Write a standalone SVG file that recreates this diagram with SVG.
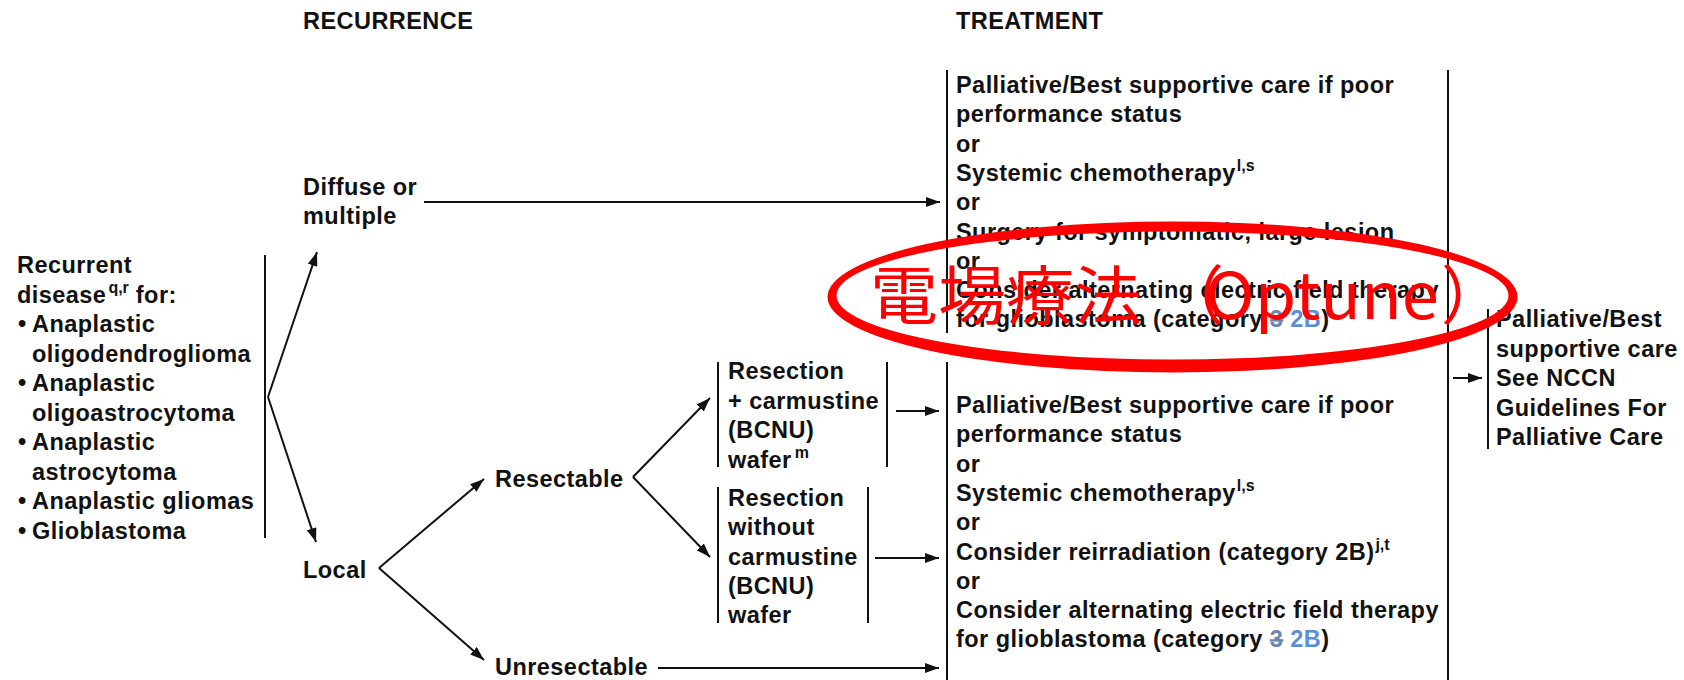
<svg xmlns="http://www.w3.org/2000/svg" width="1684" height="680" viewBox="0 0 1684 680">
<style>
.t{font-family:"Liberation Sans",Arial,sans-serif;font-weight:bold;font-size:23.5px;letter-spacing:0.45px;fill:#111}
.sup{font-size:16px;letter-spacing:0}
.bar{stroke:#111;stroke-width:2;fill:none}
.con{stroke:#111;stroke-width:2;fill:none;marker-end:url(#ah)}
.old{fill:#6a86b0;text-decoration:line-through}
.new{fill:#5b8ed8}
.red{font-family:"Noto Sans CJK JP",sans-serif;font-size:64px;fill:#f00}
</style>
<defs>
<marker id="ah" markerUnits="userSpaceOnUse" markerWidth="14" markerHeight="10" refX="14" refY="5" orient="auto">
<path d="M0,0 L14,5 L0,10 z" fill="#111"/>
</marker>
</defs>
<rect width="1684" height="680" fill="#fff"/>
<g id="headers">
<text class="t" x="303" y="29">RECURRENCE</text>
<text class="t" x="956" y="29">TREATMENT</text>
</g>
<g id="node-recurrent">
<text class="t" x="17" y="273">Recurrent</text>
<text class="t" x="17" y="302.5">disease<tspan class="sup" dy="-10" dx="2">q,r</tspan><tspan dy="10"> for:</tspan></text>
<text class="t" x="18" y="332">•<tspan x="32">Anaplastic</tspan></text>
<text class="t" x="32" y="361.5">oligodendroglioma</text>
<text class="t" x="18" y="391">•<tspan x="32">Anaplastic</tspan></text>
<text class="t" x="32" y="420.5">oligoastrocytoma</text>
<text class="t" x="18" y="450">•<tspan x="32">Anaplastic</tspan></text>
<text class="t" x="32" y="479.5">astrocytoma</text>
<text class="t" x="18" y="509">•<tspan x="32">Anaplastic gliomas</tspan></text>
<text class="t" x="18" y="538.5">•<tspan x="32">Glioblastoma</tspan></text>
<line class="bar" x1="265" y1="255" x2="265" y2="538"/>
</g>
<g id="node-diffuse">
<text class="t" x="303" y="195">Diffuse or</text>
<text class="t" x="303" y="224">multiple</text>
</g>
<g id="node-local">
<text class="t" x="303" y="578">Local</text>
</g>
<g id="node-resectable">
<text class="t" x="495" y="487">Resectable</text>
</g>
<g id="node-unresectable">
<text class="t" x="495" y="675">Unresectable</text>
</g>
<g id="node-resection-bcnu">
<line class="bar" x1="718" y1="362" x2="718" y2="467"/>
<line class="bar" x1="887" y1="362" x2="887" y2="467"/>
<text class="t" x="728" y="379">Resection</text>
<text class="t" x="728" y="408.5">+ carmustine</text>
<text class="t" x="728" y="438">(BCNU)</text>
<text class="t" x="728" y="467.5">wafer<tspan class="sup" dy="-10" dx="3">m</tspan></text>
</g>
<g id="node-resection-no-bcnu">
<line class="bar" x1="718" y1="487" x2="718" y2="623"/>
<line class="bar" x1="868" y1="487" x2="868" y2="623"/>
<text class="t" x="728" y="506">Resection</text>
<text class="t" x="728" y="535">without</text>
<text class="t" x="728" y="565">carmustine</text>
<text class="t" x="728" y="594">(BCNU)</text>
<text class="t" x="728" y="623">wafer</text>
</g>
<g id="node-treatment-diffuse">
<line class="bar" x1="947" y1="70" x2="947" y2="333"/>
<text class="t" x="956" y="93">Palliative/Best supportive care if poor</text>
<text class="t" x="956" y="122.3">performance status</text>
<text class="t" x="956" y="151.6">or</text>
<text class="t" x="956" y="180.9">Systemic chemotherapy<tspan class="sup" dy="-10" dx="1">l,s</tspan></text>
<text class="t" x="956" y="210.2">or</text>
<text class="t" x="956" y="239.5">Surgery for symptomatic, large lesion</text>
<text class="t" x="956" y="268.8">or</text>
<text class="t" x="956" y="298.1">Consider alternating electric field therapy</text>
<text class="t" x="956" y="327.4">for glioblastoma (category <tspan class="old">3</tspan> <tspan class="new">2B</tspan>)</text>
</g>
<g id="node-treatment-local">
<line class="bar" x1="947" y1="362" x2="947" y2="680"/>
<text class="t" x="956" y="413">Palliative/Best supportive care if poor</text>
<text class="t" x="956" y="442.3">performance status</text>
<text class="t" x="956" y="471.6">or</text>
<text class="t" x="956" y="500.9">Systemic chemotherapy<tspan class="sup" dy="-10" dx="1">l,s</tspan></text>
<text class="t" x="956" y="530.2">or</text>
<text class="t" x="956" y="559.5">Consider reirradiation (category 2B)<tspan class="sup" dy="-10" dx="1">j,t</tspan></text>
<text class="t" x="956" y="588.8">or</text>
<text class="t" x="956" y="618.1">Consider alternating electric field therapy</text>
<text class="t" x="956" y="647.4">for glioblastoma (category <tspan class="old">3</tspan> <tspan class="new">2B</tspan>)</text>
</g>
<g id="node-palliative">
<line class="bar" x1="1488" y1="309" x2="1488" y2="449"/>
<text class="t" x="1496" y="327">Palliative/Best</text>
<text class="t" x="1496" y="356.5">supportive care</text>
<text class="t" x="1496" y="386">See NCCN</text>
<text class="t" x="1496" y="415.5">Guidelines For</text>
<text class="t" x="1496" y="445">Palliative Care</text>
</g>
<g id="connectors">
<line class="con" x1="268" y1="397" x2="317" y2="252"/>
<line class="con" x1="268" y1="397" x2="316" y2="542"/>
<line class="con" x1="424" y1="202" x2="940" y2="202"/>
<line class="con" x1="379" y1="568" x2="484" y2="479"/>
<line class="con" x1="379" y1="568" x2="484" y2="660"/>
<line class="con" x1="633" y1="477" x2="710" y2="398"/>
<line class="con" x1="633" y1="477" x2="710" y2="557"/>
<line class="con" x1="896" y1="411" x2="939" y2="411"/>
<line class="con" x1="875" y1="558" x2="939" y2="558"/>
<line class="con" x1="658" y1="668" x2="939" y2="668"/>
<line class="bar" x1="1448" y1="70" x2="1448" y2="680"/>
<line class="con" x1="1453" y1="378" x2="1482" y2="378"/>
</g>
<g id="annotation">
<path fill="#f00" fill-rule="evenodd" d="M827.5,297 a345,75.5 0 1,0 690,0 a345,75.5 0 1,0 -690,0 z M836.5,295.5 a336,64 0 1,0 672,0 a336,64 0 1,0 -672,0 z"/>
<text class="red" x="870" y="319"><tspan textLength="272" lengthAdjust="spacingAndGlyphs">電場療法</tspan><tspan x="1160">（</tspan><tspan x="1205" textLength="234" lengthAdjust="spacingAndGlyphs">Optune</tspan><tspan x="1441">）</tspan></text>
</g>
</svg>
